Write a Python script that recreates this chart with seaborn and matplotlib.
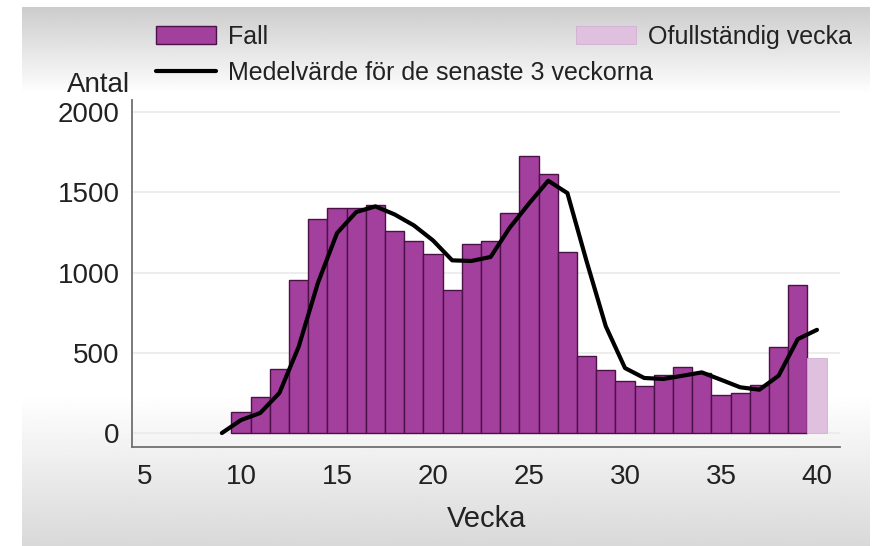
import numpy as np
import pandas as pd
import matplotlib
matplotlib.use("Agg")
import matplotlib.pyplot as plt
from matplotlib.patches import Patch
from matplotlib.lines import Line2D
import seaborn as sns

# data
weeks = [10, 11, 12, 13, 14, 15, 16, 17, 18, 19, 20, 21, 22, 23, 24,
         25, 26, 27, 28, 29, 30, 31, 32, 33, 34, 35, 36, 37, 38, 39]
cases = [130, 225, 400, 955, 1335, 1404, 1400, 1419, 1257, 1196, 1117, 893, 1176, 1194, 1373,
         1728, 1612, 1128, 478, 395, 322, 291, 359, 411, 374, 235, 249, 297, 536, 922]
partial_week = [40]
partial_cases = [467]
mean_weeks = [9, 10, 11, 12, 13, 14, 15, 16, 17, 18, 19, 20, 21, 22, 23, 24,
              25, 26, 27, 28, 29, 30, 31, 32, 33, 34, 35, 36, 37, 38, 39, 40]
mean3 = [0, 81, 125, 250, 537, 934, 1246, 1377, 1412, 1362, 1294, 1200, 1076, 1072, 1097, 1280,
         1430, 1572, 1495, 1070, 665, 405, 343, 337, 357, 378, 332, 285, 270, 357, 585, 643]
yticks = [0, 500, 1000, 1500, 2000]
xticks = [5, 10, 15, 20, 25, 30, 35, 40]

bar_col = "#a3409d"
edge_col = "#4b1247"
light_col = "#dfc0df"

sns.set_style("white")
plt.rcParams["font.family"] = ["Liberation Sans", "DejaVu Sans"]

fig = plt.figure(figsize=(8.87, 5.46), dpi=100)
fig.patch.set_facecolor("white")

# grey vignette-like background panel
bg = fig.add_axes([22 / 887, 0, 848 / 887, 1 - 7 / 546])
t = np.linspace(0, 1, 546)[:, None]
shade = (1 - 0.2 * np.clip((0.16 - t) / 0.16, 0, 1)
         - 0.15 * np.clip((t - 0.72) / 0.28, 0, 1))
bg.imshow(np.repeat(shade, 10, axis=1), cmap="gray", vmin=0, vmax=1, aspect="auto")
bg.set_axis_off()

ax = fig.add_axes([132 / 887, 1 - 447 / 546, 708 / 887, 347 / 546])
ax.patch.set_alpha(0)

df = pd.DataFrame({"Vecka": weeks, "Fall": cases})
df_p = pd.DataFrame({"Vecka": partial_week, "Fall": partial_cases})
df_m = pd.DataFrame({"Vecka": mean_weeks, "Medel": mean3})

sns.barplot(data=df, x="Vecka", y="Fall", native_scale=True, width=1, color=bar_col,
            saturation=1, edgecolor=edge_col, linewidth=1, ax=ax, zorder=2)
sns.barplot(data=df_p, x="Vecka", y="Fall", native_scale=True, width=1, color=light_col,
            saturation=1, edgecolor="#d2aed2", linewidth=0.6, ax=ax, zorder=2)
for p in ax.patches[-1:]:
    p.set_width(1)
    p.set_x(partial_week[0] - 0.5)
sns.lineplot(data=df_m, x="Vecka", y="Medel", color="black", linewidth=3, ax=ax, zorder=3)

ax.set_xlim(4.32, 41.2)
ax.set_ylim(-87, 2075)
ax.set_xticks(xticks)
ax.set_yticks(yticks)
ax.set_xticklabels([str(v) for v in xticks])
ax.set_yticklabels([str(v) for v in yticks])
ax.set_xlabel("")
ax.set_ylabel("")
ax.yaxis.grid(True, color="#ececec", linewidth=1.3, zorder=0)
ax.set_axisbelow(True)
for s in ["top", "right"]:
    ax.spines[s].set_visible(False)
for s in ["left", "bottom"]:
    ax.spines[s].set_color("#707070")
    ax.spines[s].set_linewidth(1.3)
ax.tick_params(axis="both", colors="#707070", labelcolor="#222222", labelsize=20,
               length=6, width=1.3, direction="out")
ax.tick_params(axis="x", pad=6)
ax.tick_params(axis="y", pad=3)

fig.text(99 / 887, 1 - 85 / 546, "Antal", ha="center", va="center", fontsize=20, color="#222222")
fig.text(487 / 887, 1 - 519 / 546, "Vecka", ha="center", va="center", fontsize=21, color="#222222")

h_fall = Patch(facecolor=bar_col, edgecolor=edge_col, linewidth=1)
h_mean = Line2D([], [], color="black", linewidth=3)
h_part = Patch(facecolor=light_col, edgecolor="#d2aed2", linewidth=0.6)
fig.legend([h_fall, h_mean], ["Fall", "Medelvärde för de senaste 3 veckorna"],
           loc="upper left", bbox_to_anchor=(156 / 887, 1 - 25 / 546), frameon=False,
           fontsize=18, handlelength=2.4, handleheight=0.75, labelspacing=0.48,
           handletextpad=0.5, borderaxespad=0, borderpad=0, labelcolor="#222222")
fig.legend([h_part], ["Ofullständig vecka"], loc="upper left",
           bbox_to_anchor=(576 / 887, 1 - 25 / 546), frameon=False, fontsize=18,
           handlelength=2.4, handleheight=0.75, handletextpad=0.5, borderaxespad=0,
           borderpad=0, labelcolor="#222222")

fig.savefig("out.png", dpi=100)
